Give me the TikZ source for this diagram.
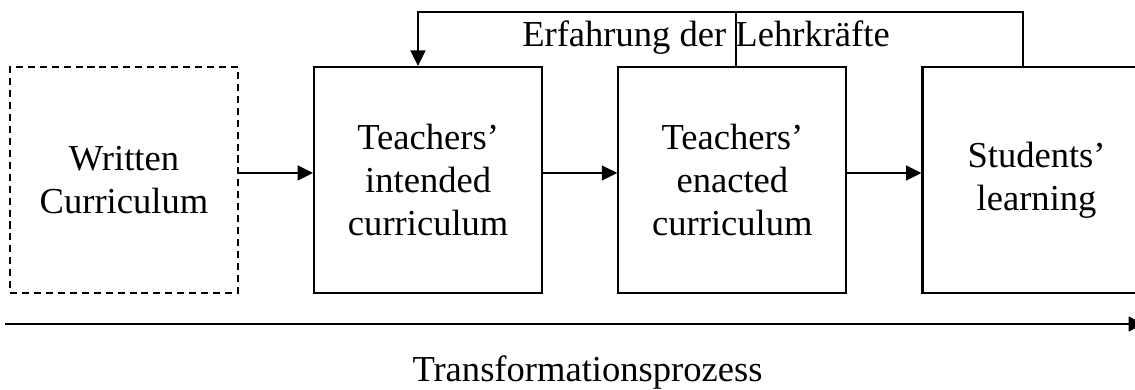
\documentclass[tikz,border=0pt]{standalone}
\usepackage{fontspec}
\setmainfont{Liberation Serif}
\usetikzlibrary{positioning,arrows.meta}

\begin{document}
\begin{tikzpicture}[x=0.025cm, y=-0.025cm,
	box/.style={draw, line width=1.5pt, minimum width=5.7cm, minimum height=5.65cm, inner sep=0pt, align=center},
	line/.style={line width=1.5pt},
	flow/.style={line width=1.5pt, -{Triangle[length=11pt, width=10.5pt]}},
	node distance=1.85cm,
	font=\fontsize{26}{30.6}\selectfont]

	\useasboundingbox (0,0) rectangle (1135,389);

	%boxes
	\node[box, dash pattern=on 5pt off 3.5pt] (written) at (124,180) {Written\\Curriculum};
	\node[box, right=of written] (intended) {Teachers’\\intended\\curriculum};
	\node[box, right=of intended] (enacted) {Teachers’\\enacted\\curriculum};
	\node[box, right=of enacted] (students) {Students’\\learning};

	%arrows
	\foreach \a/\b in {written/intended, intended/enacted, enacted/students}
		\draw[flow] ([yshift=5pt]\a.east) -- ([yshift=5pt]\b.west);

	%feedback
	\coordinate (loop) at (418,12);
	\coordinate (loop mid) at (736,12);
	\coordinate (loop end) at (1023,12);
	\draw[flow] (students.north -| loop end) -- (loop end) -- (loop) -- (loop |- intended.north);
	\draw[line] (enacted.north -| loop mid) -- (loop mid);
	\node[anchor=base] (experience) at (706,46) {Erfahrung der Lehrkräfte};

	%process
	\coordinate (process start) at (5,324);
	\coordinate (process end) at (1144,324);
	\draw[flow] (process start) -- (process end);
	\node[anchor=base] (process) at (587.5,381) {Transformationsprozess};
\end{tikzpicture}
\end{document}
